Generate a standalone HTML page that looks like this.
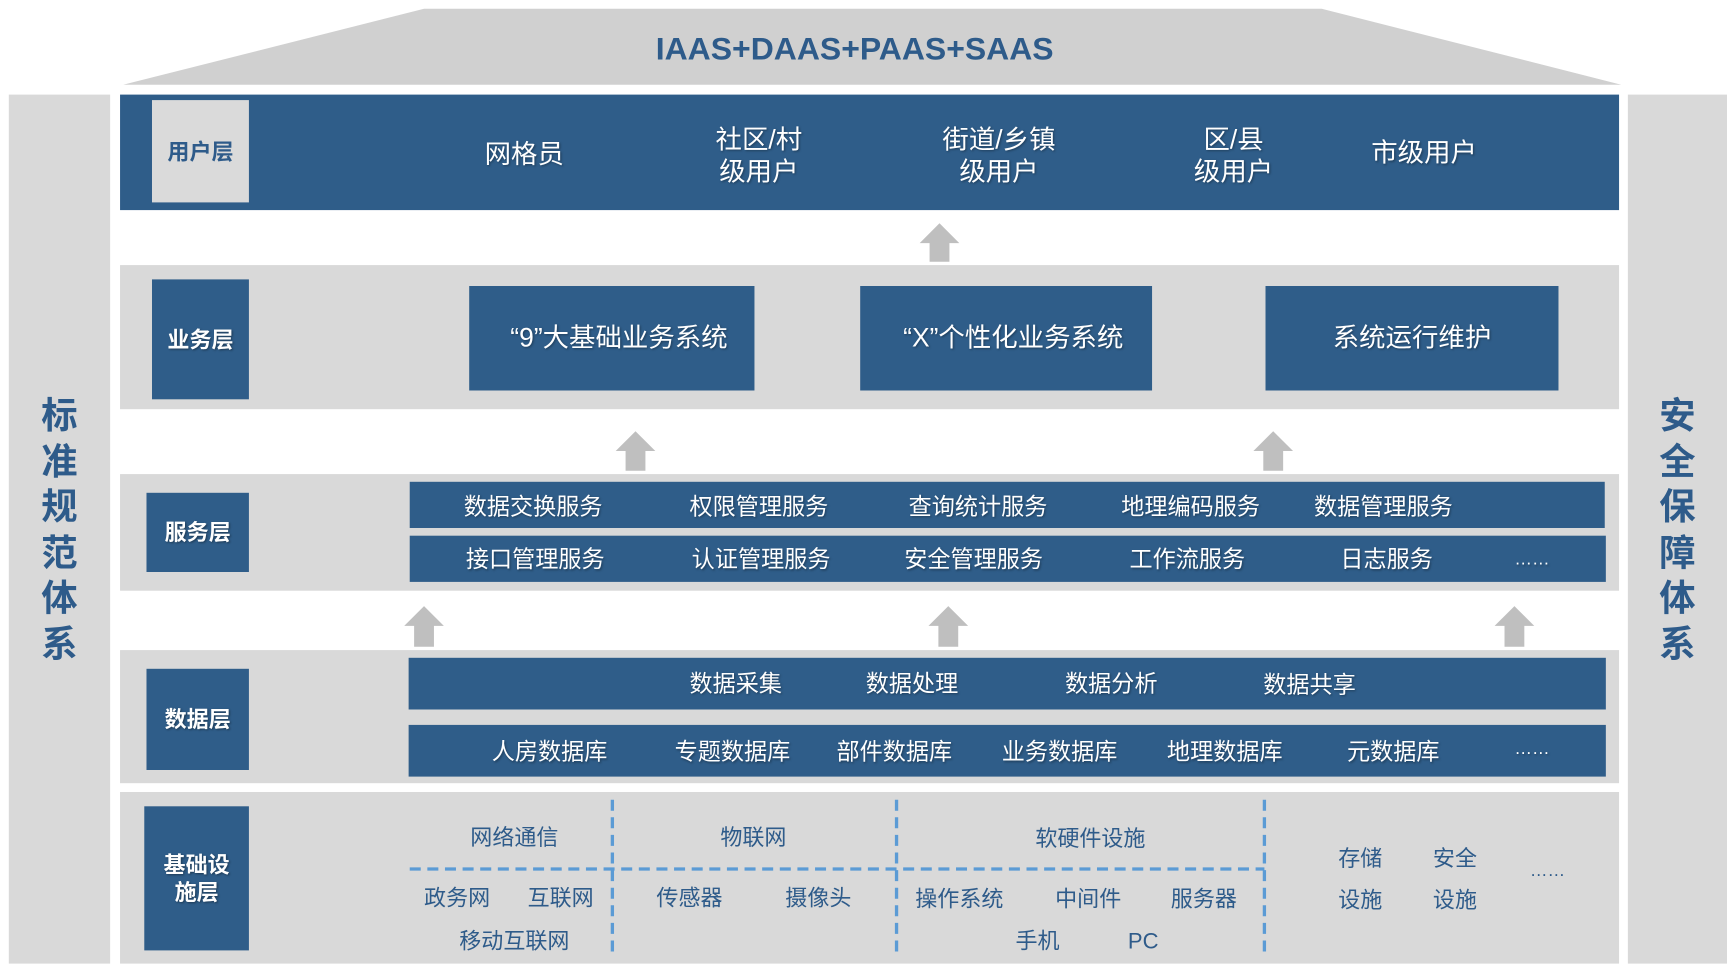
<!DOCTYPE html>
<html><head><meta charset="utf-8"><style>
html,body{margin:0;padding:0;background:#fff;width:1727px;height:968px;overflow:hidden}
#w{position:absolute;left:0;top:0;width:1568px;height:880px;transform:scale(1.10140,1.1);transform-origin:0 0;font-family:"Liberation Sans","Noto Sans CJK SC",sans-serif}
#w div{position:absolute;box-sizing:border-box}
.g{background:#d9d9d9}
.b{background:#2f5d89}
.t{white-space:nowrap;text-align:center;width:240px;transform:translate(-50%,-45%);color:#fff;font-size:21px;line-height:1.2;text-shadow:1px 1px 2px rgba(0,0,0,.35)}
.d{color:#2e5b8a;text-shadow:none;font-size:20px}
.lb{display:flex;align-items:center;justify-content:center;color:#fff;font-weight:bold;font-size:20px;text-align:center;line-height:1.25;text-shadow:1px 1px 2px rgba(0,0,0,.4);padding-top:3px}
.big{font-size:24px}
.v{font-weight:bold;font-size:33px;color:#2e5b8a;line-height:41.5px;width:40px;text-align:center}
</style></head><body><div id="w">
<svg style="position:absolute;left:0;top:0" width="1568" height="880">
<polygon points="385,8 1200,8 1472,77 112,77" fill="#d0d0d0"/>
</svg>
<div style="left:476px;top:29px;width:600px;text-align:center;font-size:29px;font-weight:bold;color:#2e5b8a">IAAS+DAAS+PAAS+SAAS</div>
<div class="g" style="left:8px;top:86px;width:92px;height:790px"></div>
<div class="g" style="left:1478px;top:86px;width:90px;height:790px"></div>
<div class="v" style="left:34px;top:357px">标准规范体系</div>
<div class="v" style="left:1503px;top:357px">安全保障体系</div>

<div class="b" style="left:109px;top:86px;width:1361px;height:105px"></div>
<div class="lb" style="left:138px;top:91px;width:88px;height:93px;background:#dadada;color:#2e5b8a;text-shadow:none">用户层</div>
<div class="t big" style="left:476px;top:140px">网格员</div>
<div class="t big" style="left:689px;top:140px">社区/村<br>级用户</div>
<div class="t big" style="left:907px;top:140px">街道/乡镇<br>级用户</div>
<div class="t big" style="left:1120px;top:140px">区/县<br>级用户</div>
<div class="t big" style="left:1293px;top:139px">市级用户</div>

<svg style="position:absolute;left:0;top:0" width="1568" height="880">
<g fill="#bfbfbf">
<polygon points="853,203 871,221 862,221 862,238 844,238 844,221 835,221"/>
<polygon points="577,392 595,410 586,410 586,428 568,428 568,410 559,410"/>
<polygon points="1156,392 1174,410 1165,410 1165,428 1147,428 1147,410 1138,410"/>
<polygon points="385,551 403,569 394,569 394,588 376,588 376,569 367,569"/>
<polygon points="861,551 879,569 870,569 870,588 852,588 852,569 843,569"/>
<polygon points="1375,551 1393,569 1384,569 1384,588 1366,588 1366,569 1357,569"/>
</g></svg>

<div class="g" style="left:109px;top:241px;width:1361px;height:131px"></div>
<div class="lb b" style="left:138px;top:254px;width:88px;height:109px">业务层</div>
<div class="b" style="left:426px;top:260px;width:259px;height:95px"></div>
<div class="b" style="left:781px;top:260px;width:265px;height:95px"></div>
<div class="b" style="left:1149px;top:260px;width:266px;height:95px"></div>
<div class="t big" style="left:562px;top:307px">“9”大基础业务系统</div>
<div class="t big" style="left:920px;top:307px">“X”个性化业务系统</div>
<div class="t big" style="left:1282px;top:307px">系统运行维护</div>

<div class="g" style="left:109px;top:431px;width:1361px;height:106px"></div>
<div class="lb b" style="left:133px;top:448px;width:93px;height:72px">服务层</div>
<div class="b" style="left:372px;top:438px;width:1085px;height:42px"></div>
<div class="b" style="left:372px;top:487px;width:1086px;height:42px"></div>
<div class="t" style="left:484px;top:460px">数据交换服务</div>
<div class="t" style="left:689px;top:460px">权限管理服务</div>
<div class="t" style="left:888px;top:460px">查询统计服务</div>
<div class="t" style="left:1081px;top:460px">地理编码服务</div>
<div class="t" style="left:1256px;top:460px">数据管理服务</div>
<div class="t" style="left:486px;top:508px">接口管理服务</div>
<div class="t" style="left:691px;top:508px">认证管理服务</div>
<div class="t" style="left:884px;top:508px">安全管理服务</div>
<div class="t" style="left:1078px;top:508px">工作流服务</div>
<div class="t" style="left:1259px;top:508px">日志服务</div>
<div class="t" style="left:1391px;top:508px;font-size:16px">……</div>

<div class="g" style="left:109px;top:591px;width:1361px;height:121px"></div>
<div class="lb b" style="left:133px;top:608px;width:93px;height:92px">数据层</div>
<div class="b" style="left:371px;top:598px;width:1087px;height:47px"></div>
<div class="b" style="left:371px;top:659px;width:1087px;height:47px"></div>
<div class="t" style="left:668px;top:621px">数据采集</div>
<div class="t" style="left:828px;top:621px">数据处理</div>
<div class="t" style="left:1009px;top:621px">数据分析</div>
<div class="t" style="left:1189px;top:622px">数据共享</div>
<div class="t" style="left:499px;top:683px">人房数据库</div>
<div class="t" style="left:665px;top:683px">专题数据库</div>
<div class="t" style="left:812px;top:683px">部件数据库</div>
<div class="t" style="left:962px;top:683px">业务数据库</div>
<div class="t" style="left:1112px;top:683px">地理数据库</div>
<div class="t" style="left:1265px;top:683px">元数据库</div>
<div class="t" style="left:1391px;top:680px;font-size:16px">……</div>

<div class="g" style="left:109px;top:720px;width:1361px;height:156px"></div>
<div class="lb b" style="left:131px;top:733px;width:95px;height:131px">基础设<br>施层</div>
<svg style="position:absolute;left:0;top:0" width="1568" height="880">
<g stroke="#5b9bd5" stroke-width="3" stroke-dasharray="10,6" fill="none">
<line x1="556" y1="727" x2="556" y2="866"/>
<line x1="814" y1="727" x2="814" y2="866"/>
<line x1="1148" y1="727" x2="1148" y2="866"/>
<line x1="372" y1="790" x2="1148" y2="790"/>
</g></svg>
<div class="t d" style="left:467px;top:761px">网络通信</div>
<div class="t d" style="left:684px;top:761px">物联网</div>
<div class="t d" style="left:990px;top:762px">软硬件设施</div>
<div class="t d" style="left:415px;top:816px">政务网</div>
<div class="t d" style="left:509px;top:816px">互联网</div>
<div class="t d" style="left:626px;top:816px">传感器</div>
<div class="t d" style="left:743px;top:816px">摄像头</div>
<div class="t d" style="left:871px;top:817px">操作系统</div>
<div class="t d" style="left:988px;top:817px">中间件</div>
<div class="t d" style="left:1093px;top:817px">服务器</div>
<div class="t d" style="left:467px;top:855px">移动互联网</div>
<div class="t d" style="left:942px;top:855px">手机</div>
<div class="t d" style="left:1038px;top:855px">PC</div>
<div class="t d" style="left:1235px;top:780px">存储</div>
<div class="t d" style="left:1321px;top:780px">安全</div>
<div class="t d" style="left:1235px;top:818px">设施</div>
<div class="t d" style="left:1321px;top:818px">设施</div>
<div class="t d" style="left:1405px;top:791px;font-size:16px">……</div>
</div></body></html>
